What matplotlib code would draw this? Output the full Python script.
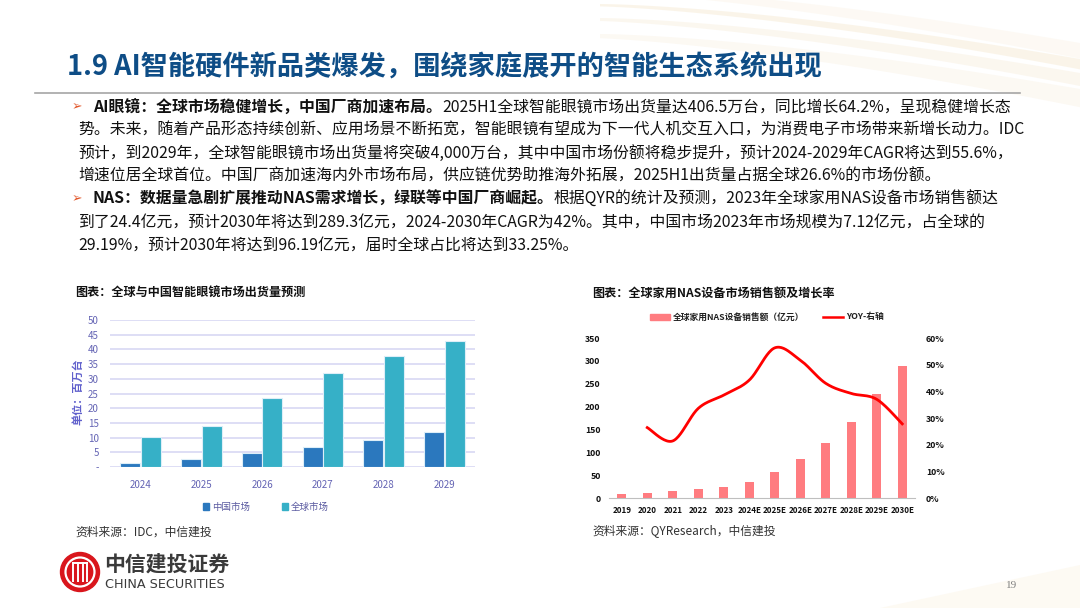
import numpy as np
import matplotlib
matplotlib.use('Agg')
import matplotlib.pyplot as plt
from matplotlib.patches import Circle, Rectangle, Polygon

plt.rcParams['font.family'] = ['Noto Sans CJK SC', 'DejaVu Sans']

W, H = 1080, 608

# ---------------- data ----------------
title = '1.9 AI智能硬件新品类爆发，围绕家庭展开的智能生态系统出现'

bullet_lines = [
    [('AI眼镜：全球市场稳健增长，中国厂商加速布局。', True),
     ('2025H1全球智能眼镜市场出货量达406.5万台，同比增长64.2%，呈现稳健增长态', False)],
    [('势。未来，随着产品形态持续创新、应用场景不断拓宽，智能眼镜有望成为下一代人机交互入口，为消费电子市场带来新增长动力。IDC', False)],
    [('预计，到2029年，全球智能眼镜市场出货量将突破4,000万台，其中中国市场份额将稳步提升，预计2024-2029年CAGR将达到55.6%，', False)],
    [('增速位居全球首位。中国厂商加速海内外市场布局，供应链优势助推海外拓展，2025H1出货量占据全球26.6%的市场份额。', False)],
    [('NAS：数据量急剧扩展推动NAS需求增长，绿联等中国厂商崛起。', True),
     ('根据QYR的统计及预测，2023年全球家用NAS设备市场销售额达', False)],
    [('到了24.4亿元，预计2030年将达到289.3亿元，2024-2030年CAGR为42%。其中，中国市场2023年市场规模为7.12亿元，占全球的', False)],
    [('29.19%，预计2030年将达到96.19亿元，届时全球占比将达到33.25%。', False)],
]
bullet_flags = [True, False, False, False, True, False, False]

glass_title = '图表：全球与中国智能眼镜市场出货量预测'
glass_years = ['2024', '2025', '2026', '2027', '2028', '2029']
glass_china = [1.2, 2.7, 4.8, 6.7, 9.2, 12.0]
glass_global = [10.2, 14.1, 23.6, 32.0, 37.8, 42.9]
glass_ticks = [0, 5, 10, 15, 20, 25, 30, 35, 40, 45, 50]
glass_tick_labels = ['-', '5', '10', '15', '20', '25', '30', '35', '40', '45', '50']
glass_names = ['中国市场', '全球市场']
glass_unit = '单位：百万台'
glass_source = '资料来源：IDC，中信建投'

nas_title = '图表：全球家用NAS设备市场销售额及增长率'
nas_years = ['2019', '2020', '2021', '2022', '2023', '2024E', '2025E',
             '2026E', '2027E', '2028E', '2029E', '2030E']
nas_sales = [8.5, 12, 14.5, 19, 24.4, 35.5, 56, 85, 120, 166, 227, 289.3]
nas_yoy = [np.nan, 26.4, 21.4, 33.6, 38.6, 44.2, 56.3, 51.7, 43.0, 39.2, 37.0, 27.8]
nas_names = ['全球家用NAS设备销售额（亿元）', 'YOY-右轴']
nas_source = '资料来源：QYResearch，中信建投'

# ---------------- helpers ----------------
def smooth(xs, ys, n=24):
    # catmull-rom curve through the points (like excel smoothed line)
    pts = np.column_stack([xs, ys])
    p = np.vstack([pts[0], pts, pts[-1]])
    out = []
    for i in range(1, len(p) - 2):
        p0, p1, p2, p3 = p[i - 1], p[i], p[i + 1], p[i + 2]
        t = np.linspace(0, 1, n)[:, None]
        seg = 0.5 * (2 * p1 + (-p0 + p2) * t + (2 * p0 - 5 * p1 + 4 * p2 - p3) * t ** 2
                     + (-p0 + 3 * p1 - 3 * p2 + p3) * t ** 3)
        out.append(seg)
    return np.vstack(out)


def fr(x0, y0, x1, y1):
    # pixel box (top-left origin) -> figure rect
    return [x0 / W, 1 - y1 / H, (x1 - x0) / W, (y1 - y0) / H]


fig = plt.figure(figsize=(W / 100, H / 100), dpi=100)
fig.patch.set_facecolor('white')

bg = fig.add_axes([0, 0, 1, 1])
bg.set_xlim(0, W)
bg.set_ylim(H, 0)
bg.axis('off')
renderer = fig.canvas.get_renderer()

# faint beige swirl in the top right corner
xs = np.linspace(600, 1080, 80)
u = (xs - 600) / 480
for k, (off, thick, c, al) in enumerate([(0, 8, '#F3E2C2', 0.35), (14, 10, '#F6E9D2', 0.35),
                                         (30, 14, '#F9F0E1', 0.4), (-16, 12, '#FAF2E4', 0.4)]):
    top = 4 + off + 55 * u ** 1.5
    bot = top + thick * (0.3 + u)
    poly = np.vstack([np.column_stack([xs, top]), np.column_stack([xs[::-1], bot[::-1]])])
    bg.add_patch(Polygon(poly, closed=True, facecolor=c, edgecolor='none', alpha=al, zorder=0))
bg.add_patch(Polygon([[880, 608], [1080, 565], [1080, 608]], closed=True, facecolor='#FDF8EE',
                     edgecolor='none', alpha=0.7, zorder=0))

# title + rule
bg.text(67, 68, title, fontsize=19.6, weight='bold', color='#0E4D86', va='center', ha='left')
bg.plot([35, 1020], [93, 93], color='#A6A6A6', lw=1.2)

# bullet text
line_y = [107, 130, 153, 176, 199, 222, 245]
for y, parts, has_bullet in zip(line_y, bullet_lines, bullet_flags):
    if has_bullet:
        x = 93
        bg.text(72, y, '➢', fontsize=9, color='#E2572B', va='center', ha='left',
                family='DejaVu Sans')
    else:
        x = 78
    for txt, bold in parts:
        t = bg.text(x, y, txt, fontsize=11.4, weight='bold' if bold else 'normal',
                    color='#111111', va='center', ha='left')
        x += t.get_window_extent(renderer).width

# ---------------- left chart: smart glasses ----------------
bg.text(75, 293, glass_title, fontsize=8.7, weight='bold', color='#111111', va='center')
ax1 = fig.add_axes(fr(110, 320, 475, 467))
xi = np.arange(len(glass_years))
ax1.bar(xi - 0.17, glass_china, width=0.33, color='#2B78BE', edgecolor='#DDEEF8', lw=0.8, zorder=3)
ax1.bar(xi + 0.17, glass_global, width=0.33, color='#36B0C7', edgecolor='#DDEEF8', lw=0.8, zorder=3)
ax1.set_xlim(-0.5, len(glass_years) - 0.5)
ax1.set_ylim(0, 50)
ax1.set_yticks(glass_ticks)
ax1.set_yticklabels(glass_tick_labels)
ax1.set_xticks(xi)
ax1.set_xticklabels(glass_years)
ax1.tick_params(length=0, labelsize=7, colors='#6464B4', pad=8)
ax1.tick_params(axis='x', pad=9)
ax1.grid(axis='y', color='#D8D8F4', lw=1.2, zorder=0)
for s in ax1.spines.values():
    s.set_visible(False)
ax1.set_facecolor('none')
bg.text(78, 392, glass_unit, fontsize=8, weight='bold', color='#6060CC', rotation=90,
        va='center', ha='center')
bg.add_patch(Rectangle((203, 503), 6, 7, color='#2B78BE'))
bg.text(212, 507, glass_names[0], fontsize=6.8, color='#5A5AA0', va='center')
bg.add_patch(Rectangle((282, 503), 6, 7, color='#36B0C7'))
bg.text(291, 507, glass_names[1], fontsize=6.8, color='#5A5AA0', va='center')
bg.text(75, 532, glass_source, fontsize=8.5, color='#333333', va='center', style='italic')

# ---------------- right chart: NAS ----------------
bg.text(592, 293, nas_title, fontsize=8.7, weight='bold', color='#111111', va='center')
ax2 = fig.add_axes(fr(609, 338, 915, 498))
xn = np.arange(len(nas_years))
ax2.bar(xn, nas_sales, width=0.36, color='#FF7C80', zorder=2)
ax2.set_xlim(-0.5, len(nas_years) - 0.5)
ax2.set_ylim(0, 350)
ax2.set_yticks(range(0, 351, 50))
ax2.set_xticks(xn)
ax2.set_xticklabels(nas_years)
ax2.tick_params(length=0, labelsize=6.3, colors='#111111', pad=6)
ax2.tick_params(axis='x', labelsize=5.8)
for lab in ax2.get_xticklabels() + ax2.get_yticklabels():
    lab.set_fontweight('bold')
for s in ax2.spines.values():
    s.set_visible(False)
ax2.spines['bottom'].set_visible(True)
ax2.spines['bottom'].set_color('#BFBFBF')
ax2.spines['bottom'].set_linewidth(0.8)
ax2.set_facecolor('none')

ax2r = ax2.twinx()
yoy = np.array(nas_yoy)
ok = ~np.isnan(yoy)
curve = smooth(xn[ok], yoy[ok])
ax2r.plot(curve[:, 0], curve[:, 1], color='#FF0000', lw=2, zorder=4)
ax2r.set_ylim(0, 60)
ax2r.set_yticks(range(0, 61, 10))
ax2r.set_yticklabels([f'{v}%' for v in range(0, 61, 10)])
ax2r.tick_params(length=0, labelsize=6.3, colors='#111111', pad=8)
for lab in ax2r.get_yticklabels():
    lab.set_fontweight('bold')
for s in ax2r.spines.values():
    s.set_visible(False)

bg.add_patch(Rectangle((650, 314), 20, 6, color='#FF7C80'))
bg.text(673, 317, nas_names[0], fontsize=6.3, weight='bold', color='#222222', va='center')
bg.plot([823, 843], [317, 317], color='#FF0000', lw=1.8)
bg.text(846, 317, nas_names[1], fontsize=6.3, weight='bold', color='#222222', va='center')
bg.text(592, 532, nas_source, fontsize=8.5, color='#333333', va='center', style='italic')

# ---------------- logo + page number ----------------
bg.add_patch(Circle((80, 572), 19.5, color='#D9161C', zorder=5))
bg.add_patch(Circle((80, 572), 14.5, facecolor='none', edgecolor='white', lw=1.6, zorder=6))
for dx in [-7, -2.5, 2.5, 7]:
    bg.plot([80 + dx, 80 + dx], [563, 581], color='white', lw=1.4, zorder=6)
bg.plot([73, 87], [563, 563], color='white', lw=1.4, zorder=6)
bg.text(104, 564, '中信建投证券', fontsize=15, weight='bold', color='#3A3A3A', va='center')
bg.text(105, 584, 'CHINA SECURITIES', fontsize=9.2, color='#3A3A3A', va='center',
        family='DejaVu Sans')
bg.text(1012, 585, '19', fontsize=8, color='#7F7F7F', va='center', ha='center',
        family='Liberation Serif')

fig.savefig('out.png', dpi=100)
